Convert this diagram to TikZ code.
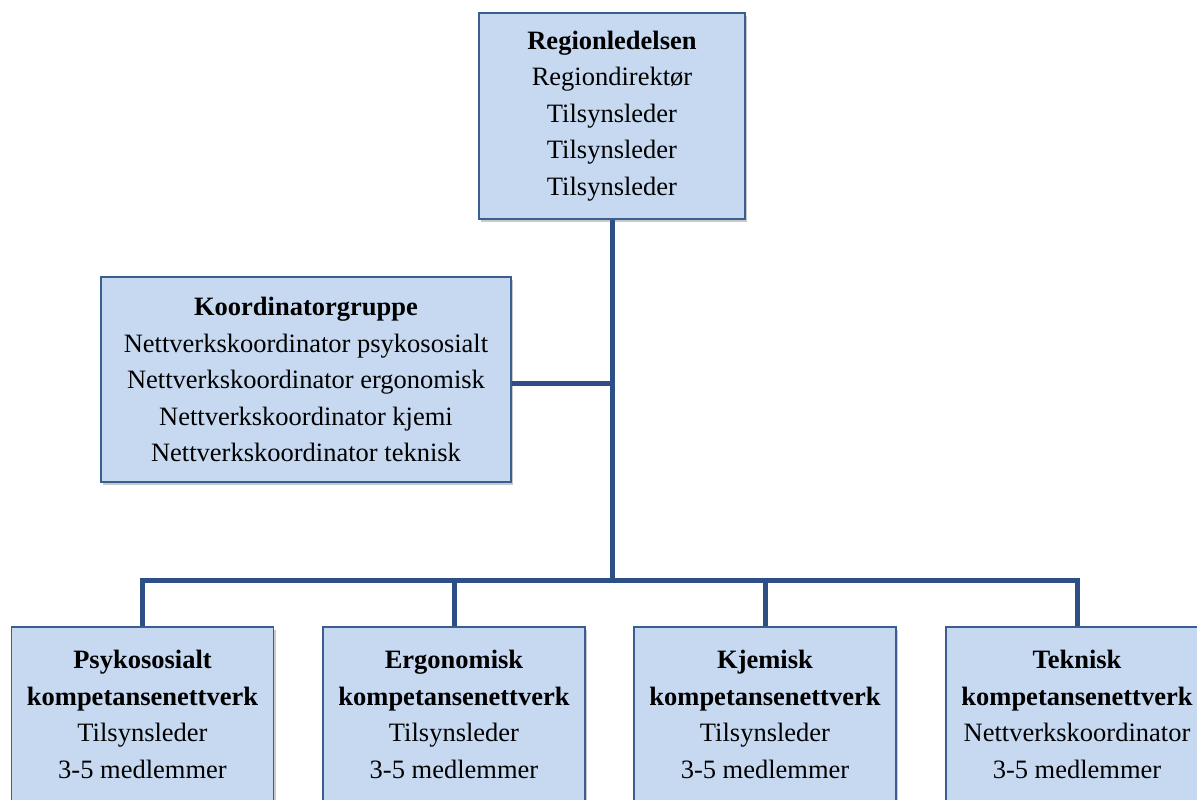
\documentclass[tikz,border=0pt]{standalone}
\usepackage{fontspec}
\setmainfont{Liberation Serif}
\usetikzlibrary{shadows}
\definecolor{boxfill}{HTML}{C6D9F1}
\definecolor{boxline}{HTML}{3B5E91}
\definecolor{connline}{HTML}{2C5086}
\tikzset{
  orgbox/.style={draw=boxline, line width=1.4pt, fill=boxfill, align=center,
    inner sep=0pt, font=\fontsize{26.5}{36.5}\selectfont,
    drop shadow={shadow xshift=2pt, shadow yshift=-3pt, opacity=0.35, fill=black!60}},
  conn/.style={draw=connline, line width=5pt, line join=miter}
}
\begin{document}
\begin{tikzpicture}[x=1pt,y=-1pt]
  \useasboundingbox (0,0) rectangle (1197,800);
  \clip (0,0) rectangle (1197,800);
  \fill[white] (0,0) rectangle (1197,800);

  % junction points of the connector tree
  \coordinate (bus) at (612,580);
  \coordinate (kjoin) at (612,383);

  \node[orgbox, minimum width=266pt, minimum height=206pt] (top) at (612,116)
    {\textbf{Regionledelsen}\\Regiondirektør\\Tilsynsleder\\Tilsynsleder\\Tilsynsleder};

  \node[orgbox, minimum width=410pt, minimum height=205pt] (koord) at (306,379.5)
    {\textbf{Koordinatorgruppe}\\Nettverkskoordinator psykososialt\\Nettverkskoordinator ergonomisk\\Nettverkskoordinator kjemi\\Nettverkskoordinator teknisk};

  \node[orgbox, minimum width=262pt, minimum height=175pt] (b1) at (142.5,714.5)
    {\textbf{Psykososialt}\\\textbf{kompetansenettverk}\\Tilsynsleder\\3-5 medlemmer};
  \node[orgbox, minimum width=262pt, minimum height=175pt] (b2) at (454,714.5)
    {\textbf{Ergonomisk}\\\textbf{kompetansenettverk}\\Tilsynsleder\\3-5 medlemmer};
  \node[orgbox, minimum width=262pt, minimum height=175pt] (b3) at (765,714.5)
    {\textbf{Kjemisk}\\\textbf{kompetansenettverk}\\Tilsynsleder\\3-5 medlemmer};
  \node[orgbox, minimum width=262pt, minimum height=175pt] (b4) at (1077,714.5)
    {\textbf{Teknisk}\\\textbf{kompetansenettverk}\\Nettverkskoordinator\\3-5 medlemmer};

  \draw[conn] (top.south) -- (bus);
  \draw[conn] (koord.east |- kjoin) -- (kjoin);
  \draw[conn] (bus) -| (b1.north);
  \draw[conn] (bus) -| (b2.north);
  \draw[conn] (bus) -| (b3.north);
  \draw[conn] (bus) -| (b4.north);
\end{tikzpicture}
\end{document}
